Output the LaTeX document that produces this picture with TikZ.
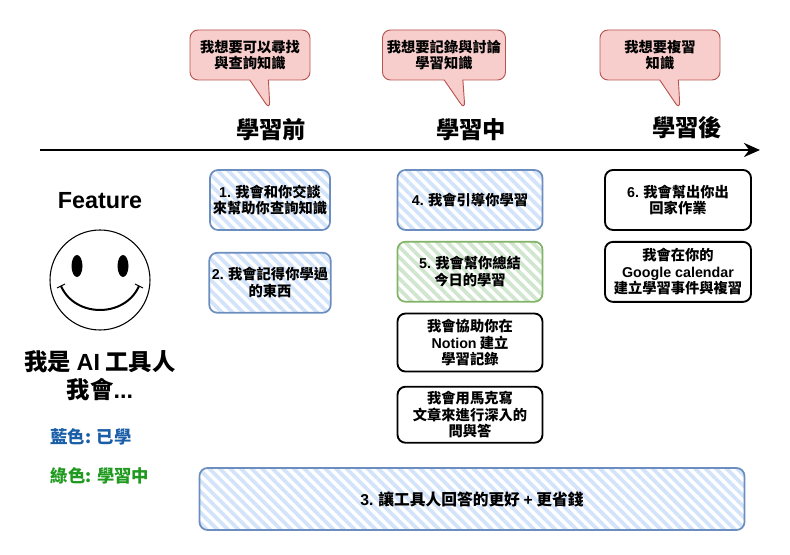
\documentclass[tikz,border=0pt]{standalone}
\usepackage{fontspec}
\setmainfont{Noto Sans CJK TC}
\newfontfamily\enfont{Liberation Sans}
\usetikzlibrary{positioning,shapes.callouts,patterns.meta,arrows.meta}
\definecolor{bluefill}{HTML}{D3E3FA}
\definecolor{blueline}{HTML}{6C8EBF}
\definecolor{greenfill}{HTML}{D0E6CE}
\definecolor{greenline}{HTML}{82B366}
\definecolor{redfill}{HTML}{F8CECC}
\definecolor{redline}{HTML}{B85450}
\definecolor{bluetext}{HTML}{1A5EA8}
\definecolor{greentext}{HTML}{1F9A1F}

\begin{document}
\begin{tikzpicture}[x=0.75pt,y=-0.75pt,
  font=\fontsize{10.7}{12.5}\selectfont\bfseries,
  box/.style={draw, rounded corners=6pt, align=center, inner sep=2pt, minimum width=90pt, minimum height=45pt},
  learnt/.style={box, draw=blueline, line width=1.3pt, pattern={Lines[angle=-45,distance=5.6pt,line width=2.8pt]}, pattern color=bluefill},
  learning/.style={box, draw=greenline, line width=1.3pt, pattern={Lines[angle=-45,distance=5.6pt,line width=2.8pt]}, pattern color=greenfill},
  plain/.style={box, draw=black, line width=1.4pt},
  bubble/.style={rectangle callout, draw=redline, fill=redfill, line width=0.7pt, rounded corners=6pt, align=center, minimum width=90pt, minimum height=37.5pt, callout pointer width=14pt},
  stage/.style={font=\fontsize{17.5}{20}\selectfont\bfseries},
  node distance=7.5pt]
\useasboundingbox (0,0) rectangle (790,555);

\coordinate (t0) at (40,150);
\coordinate (t1) at (760,150);
\draw[line width=2.2pt, -{Stealth[length=12pt,width=10.5pt]}] (t0) -- (t1);

\node[stage] (s1) at (271,130) {學習前};
\node[stage] (s2) at (471,130) {學習中};
\node[stage] (s3) at (687,128) {學習後};

\coordinate (p1) at (270,110);
\coordinate (p2) at (465,110);
\coordinate (p3) at (680,110);
\node[bubble, callout absolute pointer={(p1)}] (c1) at (250,55) {我想要可以尋找\\與查詢知識};
\node[bubble, callout absolute pointer={(p2)}] (c2) at (444,55) {我想要記錄與討論\\學習知識};
\node[bubble, callout absolute pointer={(p3)}] (c3) at (660,55) {我想要複習\\知識};

\node[learnt] (b1) at (270,200) {{\enfont 1.} 我會和你交談\\來幫助你查詢知識};
\node[learnt, below=15pt of b1] (b2) {{\enfont 2.} 我會記得你學過\\的東西};
\node[learnt, minimum width=108.75pt] (b4) at (470,200) {{\enfont 4.} 我會引導你學習};
\node[learning, minimum width=108.75pt, below=of b4] (b5) {{\enfont 5.} 我會幫你總結\\今日的學習};
\node[plain, minimum width=108.75pt, minimum height=43.5pt, below=of b5] (b6) {我會協助你在\\{\enfont Notion} 建立\\學習記錄};
\node[plain, minimum width=108.75pt, minimum height=42pt, below=10pt of b6] (b7) {我會用馬克寫\\文章來進行深入的\\問與答};
\node[plain, minimum width=109.5pt] (b8) at (678,200) {{\enfont 6.} 我會幫出你出\\回家作業};
\node[plain, minimum width=109.5pt, below=of b8] (b9) {我會在你的\\{\enfont Google calendar}\\建立學習事件與複習};
\node[learnt, minimum width=408.75pt, minimum height=46.5pt, font=\fontsize{11.8}{14}\selectfont\bfseries] (b3) at (472,499) {{\enfont 3.} 讓工具人回答的更好 {\enfont +} 更省錢};

\node[font=\enfont\fontsize{17.5}{21}\selectfont\bfseries] (feat) at (100,201) {Feature};
\draw[line width=0.8pt] (100,280) circle [radius=50];
\fill (77,266) ellipse [x radius=5.5, y radius=11];
\fill (123,266) ellipse [x radius=5.5, y radius=11];
\draw[line width=1.5pt] (61,286) .. controls (75,318) and (125,318) .. (139,286);
\draw[line width=0.8pt] (57,288) -- (65,284);
\draw[line width=0.8pt] (135,284) -- (143,288);
\node[align=center, font=\fontsize{17.5}{21}\selectfont\bfseries] (me) at (100,376) {我是 {\enfont AI} 工具人\\我會{\enfont ...}};
\node[text=bluetext, font=\fontsize{13}{15}\selectfont\bfseries] (k1) at (91,437) {藍色: 已學};
\node[text=greentext, font=\fontsize{13}{15}\selectfont\bfseries] (k2) at (100,476) {綠色: 學習中};
\end{tikzpicture}
\end{document}
